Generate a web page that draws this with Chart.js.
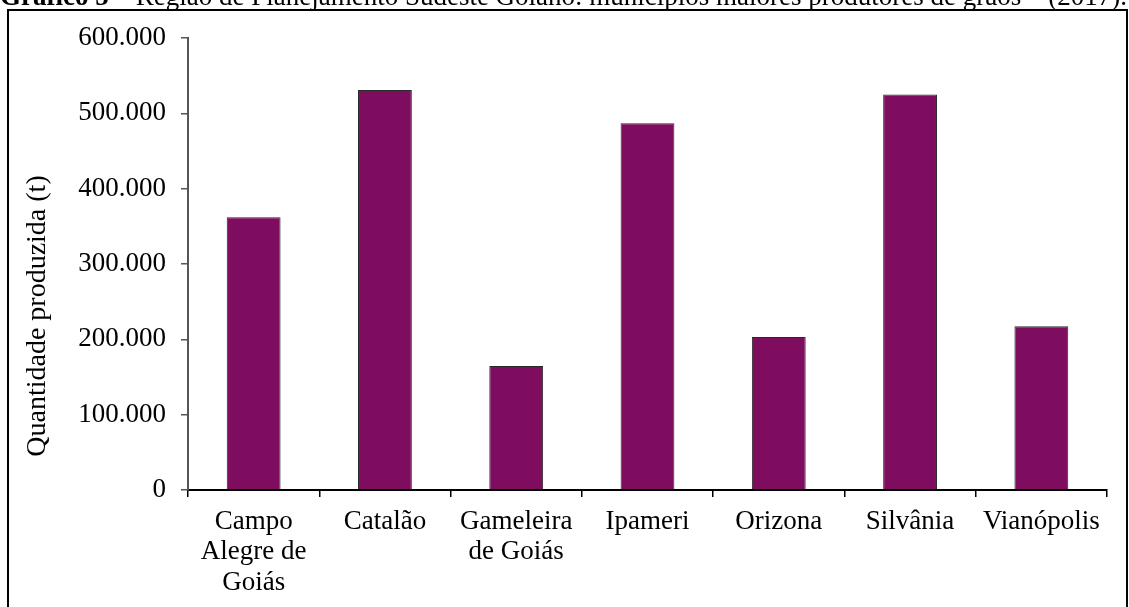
<!DOCTYPE html>
<html>
<head>
<meta charset="utf-8">
<script src="https://cdn.jsdelivr.net/npm/chart.js@4.4.0/dist/chart.umd.min.js"></script>
<style>
  html, body { margin: 0; padding: 0; background: #fff; overflow: hidden; }
  #wrap { position: relative; width: 1129px; height: 607px; }
</style>
</head>
<body>
<div id="wrap"><canvas id="c" width="1129" height="607"></canvas></div>
<script>
const titleBold = "Gráfico 5";
const titleRest = " – Região de Planejamento Sudeste Goiano: municípios maiores produtores de grãos – (2017).";
const categories = [["Campo", "Alegre de", "Goiás"], "Catalão", ["Gameleira", "de Goiás"], "Ipameri", "Orizona", "Silvânia", "Vianópolis"];
const production = [362000, 531000, 164500, 487000, 203000, 525000, 217500];
const yTicks = [0, 100000, 200000, 300000, 400000, 500000, 600000];
const yTitle = "Quantidade produzida (t)";

const FONT = "'Liberation Serif', 'Times New Roman', serif";

const framePlugin = {
  id: 'frame',
  afterDraw(chart) {
    const ctx = chart.ctx;
    ctx.save();
    ctx.strokeStyle = '#000';
    ctx.lineWidth = 2;
    ctx.beginPath();
    ctx.moveTo(8, 620);
    ctx.lineTo(8, 10);
    ctx.lineTo(1127, 10);
    ctx.lineTo(1127, 620);
    ctx.stroke();
    ctx.fillStyle = '#000';
    ctx.textBaseline = 'alphabetic';
    ctx.textAlign = 'left';
    ctx.font = "bold 27px " + FONT;
    ctx.fillText(titleBold, 0, 5);
    const w = ctx.measureText(titleBold).width;
    ctx.font = "27px " + FONT;
    ctx.fillText(titleRest, w, 5);
    ctx.translate(38, 316);
    ctx.rotate(-Math.PI / 2);
    ctx.textAlign = 'center';
    ctx.textBaseline = 'middle';
    ctx.font = "28px " + FONT;
    ctx.fillText(yTitle, 0, 0);
    ctx.restore();
  }
};

new Chart(document.getElementById('c'), {
  type: 'bar',
  data: {
    labels: categories,
    datasets: [{
      data: production,
      backgroundColor: '#7F0D5F',
      borderColor: '#2a2a2a',
      borderWidth: 1,
      barPercentage: 0.41,
      categoryPercentage: 1.0
    }]
  },
  options: {
    responsive: false,
    animation: false,
    devicePixelRatio: 1,
    layout: { padding: { left: 10, right: 22, top: 38, bottom: 0 } },
    plugins: { legend: { display: false }, tooltip: { enabled: false } },
    scales: {
      x: {
        offset: true,
        grid: { display: true, offset: true, drawOnChartArea: false, drawTicks: true, tickLength: 7, color: '#000', lineWidth: 1.5 },
        border: { display: true, color: '#000', width: 2 },
        ticks: { color: '#000', font: { family: FONT, size: 27, lineHeight: 1.12 }, padding: 10, maxRotation: 0, autoSkip: false },
        afterFit(scale) { scale.height = 117; }
      },
      y: {
        min: 0, max: 600000,
        afterBuildTicks(scale) { scale.ticks = yTicks.map(v => ({ value: v })); },
        grid: { display: true, drawOnChartArea: false, drawTicks: true, tickLength: 7, color: '#555', lineWidth: 1.5 },
        border: { display: true, color: '#555', width: 2 },
        ticks: {
          color: '#000', font: { family: FONT, size: 27 }, padding: 15,
          callback: v => v === 0 ? '0' : v.toLocaleString('de-DE')
        },
        afterFit(scale) { scale.width = 178; }
      }
    }
  },
  plugins: [framePlugin]
});
</script>
</body>
</html>
